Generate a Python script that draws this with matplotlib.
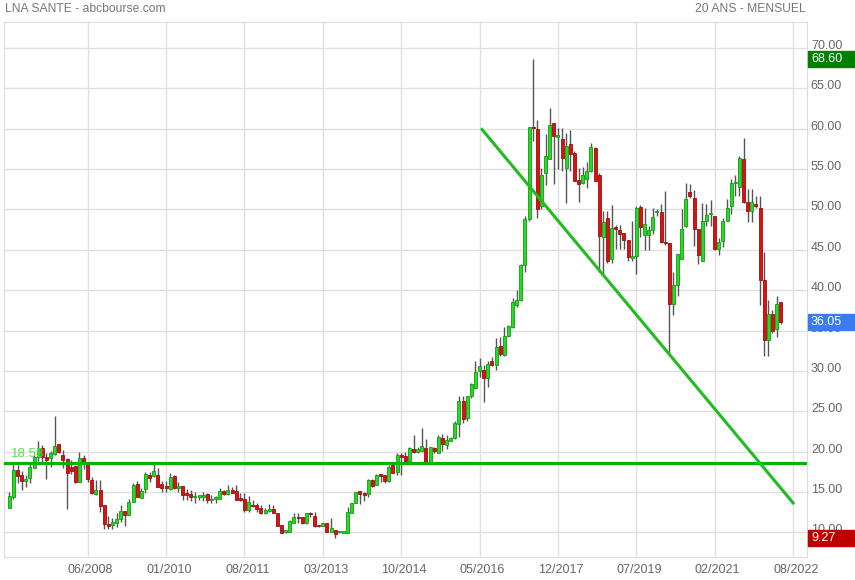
import matplotlib.pyplot as plt
from matplotlib.patches import Rectangle
from matplotlib.transforms import blended_transform_factory, ScaledTranslation
import numpy as np

plt.rcParams['font.family'] = ['Liberation Sans', 'DejaVu Sans']

# bougies mensuelles (open, high, low, close)
opens = [13.0, 14.44, 17.75, 17.1, 16.43, 16.8, 17.95, 19.3, 20.43, 19.32,
         19.28, 19.73, 20.97, 19.6, 19.07, 18.08, 18.24, 16.3, 19.2, 18.5,
         16.5, 14.77, 15.27, 13.4, 11.05, 10.9, 11.22, 11.63, 12.67, 12.17,
         13.82, 15.98, 14.32, 15.4, 17.13, 17.0, 17.09, 16.01, 15.76, 15.35,
         17.0, 15.52, 15.76, 14.86, 14.77, 14.36, 14.44, 14.44, 14.77, 14.03,
         14.11, 14.19, 15.14, 14.77, 15.27, 15.14, 14.23, 14.11, 12.79, 13.4,
         13.4, 13.08, 12.38, 12.62, 12.87, 12.46, 10.93, 10.06, 10.1, 11.22,
         11.96, 11.96, 11.14, 12.46, 12.05, 10.93, 10.85, 11.22, 10.1, 10.31,
         10.02, 9.98, 9.98, 12.46, 13.62, 15.14, 14.94, 14.77, 16.5, 15.9,
         17.13, 17.13, 16.43, 18.37, 17.54, 19.65, 19.48, 18.9, 20.3, 19.98,
         20.1, 20.43, 18.78, 20.43, 19.9, 21.67, 20.85, 21.38, 21.67, 23.4,
         26.3, 24.15, 26.84, 27.87, 29.94, 30.14, 29.11, 31.18, 30.72, 33.1,
         32.0, 34.28, 35.4, 38.2, 38.74, 43.16, 48.8, 60.2, 59.9, 50.4,
         54.44, 56.26, 60.64, 58.99, 58.66, 55.15, 58.04, 57.0, 53.6, 53.2,
         53.8, 54.7, 57.6, 54.19, 46.59, 48.87, 43.86, 47.78, 47.4, 47.1,
         46.26, 43.95, 44.28, 50.3, 46.88, 46.8, 47.4, 49.7, 49.65, 45.9,
         45.85, 38.29, 40.68, 43.86, 47.9, 52.1, 51.4, 47.6, 43.6, 48.5,
         49.4, 49.2, 45.1, 46.05, 48.6, 50.4, 53.2, 52.8, 56.26, 50.9,
         49.77, 50.7, 50.2, 41.3, 33.8, 37.1, 35.2, 38.5]
highs = [15.06, 18.57, 18.37, 17.6, 17.13, 18.57, 19.6, 21.34, 20.85, 19.8,
         20.14, 24.44, 20.97, 20.2, 19.2, 18.99, 18.24, 20.0, 19.6, 18.5,
         16.92, 16.5, 16.5, 13.4, 12.05, 11.76, 12.38, 13.4, 12.67, 14.15,
         16.1, 16.43, 15.48, 17.54, 17.54, 18.57, 17.95, 16.43, 16.4, 17.33,
         17.13, 16.3, 15.76, 15.35, 15.27, 15.06, 14.65, 15.06, 14.94, 14.6,
         14.5, 15.56, 15.27, 15.9, 15.68, 15.9, 14.86, 14.86, 14.52, 14.07,
         13.6, 13.4, 12.99, 13.53, 13.4, 12.46, 10.93, 10.31, 11.55, 12.38,
         12.38, 11.96, 12.46, 12.58, 12.58, 10.93, 11.22, 11.22, 11.76, 10.31,
         10.2, 10.23, 13.2, 13.7, 15.06, 15.14, 15.06, 16.6, 16.6, 17.2,
         17.2, 17.13, 18.37, 18.37, 19.8, 19.8, 20.02, 20.64, 22.09, 20.64,
         22.9, 21.55, 20.64, 20.64, 22.1, 22.2, 22.1, 21.8, 23.74, 26.84,
         26.84, 26.84, 28.5, 31.18, 31.59, 30.76, 31.18, 31.7, 34.07, 34.2,
         35.43, 35.7, 39.03, 39.98, 43.2, 49.15, 60.2, 68.6, 61.1, 55.15,
         59.36, 62.58, 60.7, 60.1, 60.1, 59.5, 59.8, 57.2, 55.15, 55.2,
         55.8, 58.2, 57.75, 54.45, 49.77, 49.77, 50.5, 48.1, 48.0, 47.1,
         46.26, 48.6, 50.4, 50.5, 50.2, 47.9, 50.2, 50.0, 50.6, 52.25,
         45.85, 42.3, 44.52, 49.98, 53.3, 53.1, 52.4, 47.6, 50.8, 50.7,
         51.1, 49.2, 46.5, 48.9, 51.3, 53.7, 54.3, 56.6, 58.8, 52.5,
         52.5, 51.6, 51.6, 44.7, 38.8, 37.6, 39.3, 38.5]
lows = [13.0, 14.15, 16.1, 15.2, 15.6, 16.1, 17.95, 18.8, 18.78, 16.6,
        18.1, 19.6, 19.8, 18.0, 12.87, 17.2, 16.18, 16.3, 17.87, 16.3,
        14.73, 14.65, 12.58, 10.4, 10.4, 10.4, 10.72, 11.34, 10.8, 12.17,
        13.74, 14.36, 14.24, 14.86, 16.3, 16.92, 15.68, 15.06, 15.06, 15.27,
        15.35, 15.06, 14.03, 14.03, 13.9, 13.7, 14.03, 13.9, 13.7, 13.7,
        13.7, 14.11, 14.65, 14.65, 14.86, 14.03, 13.95, 12.58, 12.58, 13.2,
        12.58, 12.29, 12.29, 12.54, 12.38, 10.8, 9.9, 9.98, 10.02, 11.22,
        11.14, 11.05, 11.05, 11.96, 10.64, 10.64, 10.85, 10.02, 10.1, 9.27,
        9.98, 9.9, 9.98, 12.38, 13.62, 13.53, 13.95, 14.44, 15.68, 15.9,
        16.3, 16.1, 16.3, 17.33, 17.13, 17.13, 18.66, 18.9, 19.9, 19.9,
        20.02, 18.78, 18.7, 19.82, 19.82, 20.14, 20.3, 21.34, 21.55, 21.88,
        23.53, 23.74, 26.63, 27.75, 29.3, 26.1, 27.95, 30.55, 30.14, 31.8,
        31.88, 34.2, 35.3, 37.91, 38.7, 42.2, 48.5, 58.45, 48.94, 50.0,
        53.0, 56.26, 53.16, 55.0, 54.73, 50.8, 54.73, 53.5, 50.9, 53.1,
        52.7, 54.6, 53.5, 42.3, 41.9, 43.37, 43.4, 45.1, 45.1, 45.1,
        43.65, 43.6, 42.05, 46.6, 45.0, 45.0, 47.0, 49.2, 45.85, 45.6,
        32.2, 36.96, 39.24, 43.8, 47.8, 51.4, 45.4, 43.2, 43.6, 47.9,
        47.9, 45.0, 44.4, 45.3, 48.6, 49.4, 51.6, 51.6, 50.8, 48.4,
        48.4, 50.2, 38.2, 31.8, 31.8, 34.7, 34.15, 35.8]
closes = [14.52, 17.75, 17.05, 16.43, 16.63, 18.08, 19.4, 20.43, 19.32, 18.99,
          19.8, 20.72, 20.02, 18.99, 17.33, 17.66, 16.3, 19.2, 18.45, 16.63,
          14.86, 15.27, 13.29, 11.0, 10.8, 11.26, 11.71, 12.67, 12.17, 13.82,
          15.9, 14.44, 15.15, 17.25, 16.8, 17.62, 15.68, 15.52, 15.52, 16.84,
          15.48, 15.76, 14.69, 14.65, 14.36, 14.52, 14.52, 14.65, 14.07, 14.11,
          14.44, 15.14, 14.77, 15.27, 14.94, 14.03, 14.03, 12.79, 13.82, 13.3,
          12.91, 12.38, 12.79, 12.87, 12.46, 10.85, 9.98, 10.27, 11.47, 11.96,
          11.76, 11.14, 12.38, 12.25, 10.85, 10.8, 11.22, 10.1, 10.52, 9.81,
          10.14, 10.1, 12.58, 13.7, 15.02, 14.73, 14.65, 16.5, 15.76, 17.13,
          17.05, 16.38, 18.16, 17.42, 19.6, 19.4, 18.86, 20.43, 20.02, 20.3,
          20.72, 18.78, 20.56, 20.1, 21.8, 20.97, 21.47, 21.75, 23.6, 26.3,
          24.0, 26.84, 28.37, 29.81, 30.64, 29.11, 30.89, 30.68, 32.95, 32.08,
          34.36, 35.52, 38.5, 38.74, 43.16, 48.86, 60.2, 60.05, 50.06, 54.2,
          56.6, 60.39, 59.07, 59.15, 56.39, 57.83, 56.8, 53.5, 53.16, 54.2,
          54.8, 57.75, 53.5, 46.75, 48.4, 43.57, 47.7, 47.6, 46.96, 46.18,
          44.07, 44.28, 50.2, 47.8, 48.2, 47.5, 49.0, 49.8, 45.97, 45.77,
          38.29, 40.68, 44.52, 47.6, 51.3, 51.6, 47.6, 44.3, 48.6, 49.35,
          49.55, 45.1, 46.0, 48.6, 50.2, 53.3, 53.3, 56.4, 50.9, 49.77,
          50.9, 50.4, 41.2, 33.8, 37.1, 35.0, 38.3, 36.05]

tick_labels = ['06/2008', '01/2010', '08/2011', '03/2013', '10/2014',
               '05/2016', '12/2017', '07/2019', '02/2021', '08/2022']
tick_pos = [20, 39, 58, 77, 96, 115, 134, 153, 172, 191]

support = 18.58
trend_x = [115.6, 191.0]
trend_y = [59.88, 13.66]

o = np.array(opens)
h = np.array(highs)
l = np.array(lows)
c = np.array(closes)
x = np.arange(1, len(c) + 1)

fig = plt.figure(figsize=(8.55, 5.8), dpi=100)
ax = fig.add_axes([0.005, 0.039, 0.9385, 0.923])

up = c >= o
ax.vlines(x, l, h, color='#555555', lw=1, zorder=2)
bas = np.minimum(o, c)
haut = np.maximum(np.abs(c - o), 0.15)
ax.bar(x[up], haut[up], bottom=bas[up], width=0.72, color='#22dd22',
       edgecolor='#169916', lw=0.6, zorder=3)
ax.bar(x[~up], haut[~up], bottom=bas[~up], width=0.72, color='#dd1111',
       edgecolor='#991010', lw=0.6, zorder=3)

ax.axhline(support, color='#00b400', lw=2.2, zorder=4)
ax.plot(trend_x, trend_y, color='#22bb22', lw=2.2, zorder=4)
ax.text(1.3, support + 0.4, f'{support:.2f}', color='#5fdc55', fontsize=9.5,
        va='bottom', ha='left', zorder=5)

ax.set_xlim(-0.22, 194.3)
ax.set_ylim(6.92, 73.18)
ax.set_xticks(tick_pos)
ax.set_xticklabels(tick_labels)
ax.set_yticks(np.arange(10, 71, 5))
ax.set_yticklabels([f'{v:.2f}' for v in np.arange(10, 71, 5)])
ax.yaxis.tick_right()
ax.tick_params(axis='both', length=0, labelsize=9, labelcolor='#666666')
ax.tick_params(axis='y', pad=3)
ax.tick_params(axis='x', pad=5)
ax.grid(True, color='#e0e0e0', lw=1)
ax.set_axisbelow(True)
for s in ax.spines.values():
    s.set_color('#dddddd')

# petits decalages des libelles comme sur l'original
for t in ax.get_yticklabels():
    t.set_transform(t.get_transform() + ScaledTranslation(0, 0.035, fig.dpi_scale_trans))
for t in ax.get_xticklabels():
    t.set_transform(t.get_transform() + ScaledTranslation(0.03, 0, fig.dpi_scale_trans))

# etiquettes de prix sur l'axe
tr = blended_transform_factory(fig.transFigure, ax.transData)
boites = [(h.max(), '#008000'), (c[-1], '#3b7bf0'), (l.min(), '#c00000')]
for val, col in boites:
    ax.add_patch(Rectangle((808 / 855, val - 0.95), 47 / 855, 2.0,
                           transform=tr, color=col, clip_on=False, zorder=6))
    ax.text(811 / 855, val + 0.05, f'{val:.2f}', transform=tr, color='white',
            fontsize=9, va='center', ha='left', zorder=7, clip_on=False)

fig.text(5 / 855, 1 - 9 / 580, 'LNA SANTE - abcbourse.com', color='#777777',
         fontsize=8.7, va='center', ha='left')
fig.text(806 / 855, 1 - 9 / 580, '20 ANS - MENSUEL', color='#777777',
         fontsize=8.7, va='center', ha='right')

fig.savefig('out.png', dpi=100)
